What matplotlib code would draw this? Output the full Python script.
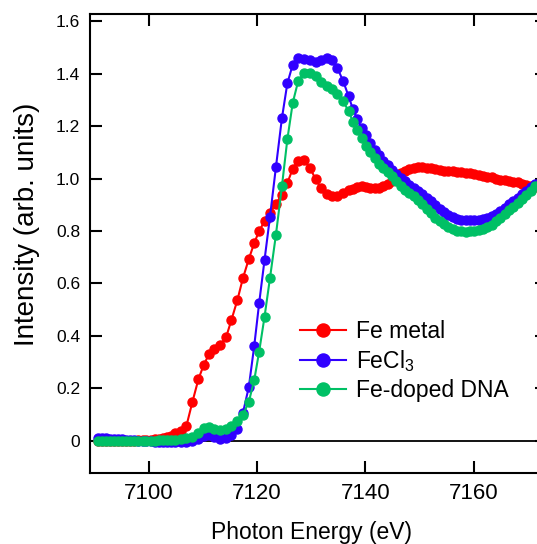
import matplotlib
matplotlib.use('Agg')
from matplotlib import pyplot as plt

plt.rcParams['font.family'] = ['Liberation Sans', 'DejaVu Sans']
plt.rcParams['mathtext.fontset'] = 'custom'
plt.rcParams['mathtext.rm'] = 'Liberation Sans'
plt.rcParams['mathtext.default'] = 'regular'

# photon energy (eV), shared by all three spectra
energy = [
    7090.6, 7091.4, 7092.1, 7092.9, 7093.6, 7094.4, 7095.1, 7095.9, 7096.6, 7097.4,
    7098.1, 7098.9, 7099.6, 7100.4, 7101.1, 7101.9, 7102.6, 7103.4, 7104.1, 7104.9,
    7106.0, 7107.0, 7108.1, 7109.2, 7110.2, 7111.2, 7112.1, 7113.2, 7114.3, 7115.3,
    7116.4, 7117.4, 7118.5, 7119.5, 7120.4, 7121.4, 7122.4, 7123.5, 7124.6, 7125.6,
    7126.6, 7127.6, 7128.7, 7129.8, 7130.8, 7131.8, 7132.9, 7133.9, 7134.8, 7135.9,
    7136.9, 7137.7, 7138.5, 7139.3, 7140.1, 7140.9, 7141.7, 7142.5, 7143.3, 7144.1,
    7144.9, 7145.7, 7146.5, 7147.3, 7148.1, 7148.9, 7149.7, 7150.5, 7151.3, 7152.1,
    7152.9, 7153.7, 7154.5, 7155.3, 7156.1, 7156.9, 7157.7, 7158.5, 7159.3, 7160.1,
    7160.9, 7161.7, 7162.5, 7163.3, 7164.1, 7164.9, 7165.7, 7166.5, 7167.3, 7168.1,
    7168.9, 7169.7, 7170.5, 7171.3]

fe_metal = [
    0.000, 0.000, -0.001, -0.001, -0.001, -0.001, 0.000, 0.000, 0.000, 0.000,
    0.001, 0.001, 0.002, 0.003, 0.005, 0.007, 0.010, 0.014, 0.019, 0.027,
    0.035, 0.057, 0.148, 0.234, 0.290, 0.331, 0.350, 0.365, 0.394, 0.461,
    0.537, 0.619, 0.693, 0.754, 0.800, 0.837, 0.870, 0.904, 0.938, 0.983,
    1.037, 1.068, 1.070, 1.040, 0.998, 0.964, 0.942, 0.932, 0.934, 0.945,
    0.955, 0.960, 0.966, 0.970, 0.968, 0.964, 0.963, 0.965, 0.972, 0.980,
    0.992, 1.008, 1.020, 1.028, 1.035, 1.040, 1.043, 1.044, 1.042, 1.039,
    1.036, 1.033, 1.030, 1.028, 1.027, 1.025, 1.024, 1.022, 1.020, 1.017,
    1.013, 1.010, 1.007, 1.004, 1.000, 0.996, 0.994, 0.991, 0.988, 0.985,
    0.981, 0.977, 0.972, 0.968]

fecl3 = [
    0.010, 0.009, 0.008, 0.007, 0.006, 0.005, 0.004, 0.003, 0.002, 0.001,
    0.000, -0.001, -0.002, -0.003, -0.004, -0.004, -0.005, -0.005, -0.005, -0.005,
    -0.005, -0.005, -0.003, 0.005, 0.018, 0.020, 0.012, 0.007, 0.010, 0.022,
    0.045, 0.104, 0.205, 0.362, 0.524, 0.690, 0.854, 1.044, 1.230, 1.363,
    1.435, 1.461, 1.457, 1.451, 1.446, 1.452, 1.461, 1.452, 1.423, 1.372,
    1.314, 1.265, 1.228, 1.192, 1.166, 1.135, 1.108, 1.088, 1.067, 1.050,
    1.034, 1.016, 1.002, 0.989, 0.977, 0.965, 0.953, 0.940, 0.927, 0.915,
    0.900, 0.885, 0.871, 0.860, 0.852, 0.846, 0.842, 0.840, 0.840, 0.841,
    0.842, 0.845, 0.851, 0.858, 0.866, 0.875, 0.888, 0.902, 0.915, 0.927,
    0.940, 0.953, 0.966, 0.980]

fe_dna = [
    0.000, 0.000, 0.000, 0.000, 0.000, 0.000, 0.000, 0.000, 0.000, 0.000,
    0.000, 0.000, 0.000, 0.000, 0.000, 0.001, 0.001, 0.002, 0.002, 0.003,
    0.004, 0.008, 0.015, 0.030, 0.049, 0.053, 0.045, 0.040, 0.045, 0.056,
    0.075, 0.097, 0.148, 0.231, 0.339, 0.473, 0.620, 0.786, 0.970, 1.149,
    1.289, 1.372, 1.404, 1.404, 1.391, 1.368, 1.352, 1.340, 1.321, 1.295,
    1.257, 1.217, 1.185, 1.155, 1.125, 1.101, 1.077, 1.056, 1.040, 1.025,
    1.009, 0.991, 0.972, 0.958, 0.945, 0.933, 0.919, 0.902, 0.885, 0.869,
    0.851, 0.838, 0.825, 0.814, 0.806, 0.801, 0.798, 0.797, 0.798, 0.800,
    0.803, 0.808, 0.815, 0.824, 0.836, 0.849, 0.863, 0.878, 0.892, 0.906,
    0.921, 0.937, 0.953, 0.972]

labels = ['Fe metal', 'FeCl$_3$', 'Fe-doped DNA']
colors = ['#ff0000', '#3000ff', '#00c065']

xticks = [7100, 7120, 7140, 7160]
yticks = [0, 0.2, 0.4, 0.6, 0.8, 1.0, 1.2, 1.4, 1.6]
ytick_labels = ['0', '0.2', '0.4', '0.6', '0.8', '1.0', '1.2', '1.4', '1.6']

W, H = 537, 544
fig = plt.figure(figsize=(W / 100, H / 100), dpi=100)
# axes box in pixels: left 90, right 547 (runs off the canvas), top 14, bottom 473
ax = fig.add_axes([90 / W, (H - 473) / H, (547 - 90) / W, (473 - 14) / H])

# zero line
ax.axhline(0, color='black', lw=1.3, zorder=1)

for y, lab, c in zip([fe_metal, fecl3, fe_dna], labels, colors):
    ax.plot(energy, y, color=c, lw=1.5, marker='o', ms=6.5, mec=c, mfc=c,
            label=lab, zorder=2)

ax.set_xlim(7089.2, 7173.5)
ax.set_ylim(-0.124, 1.628)
ax.set_xticks(xticks)
ax.set_yticks(yticks)
ax.set_yticklabels(ytick_labels)

for s in ax.spines.values():
    s.set_linewidth(1.5)
ax.tick_params(axis='both', direction='in', length=8.5, width=1.5,
               top=True, right=True)
ax.tick_params(axis='x', labelsize=16, pad=7)
ax.tick_params(axis='y', labelsize=12.5, pad=7)

# x label sits right at the bottom edge, as in the original figure
ax.set_xlabel('Photon Energy (eV)', fontsize=16.5)
ax.xaxis.set_label_coords(0.485, -0.1055)
fig.text(27 / W, 1 - 224 / H, 'Intensity (arb. units)', fontsize=20,
         rotation=90, ha='center', va='center')

leg = ax.legend(loc='upper left', bbox_to_anchor=(300 / W, 1 - 320 / H),
                bbox_transform=fig.transFigure, frameon=False, fontsize=16.5,
                handlelength=2.0, handletextpad=0.45, labelspacing=0.22,
                borderpad=0, borderaxespad=0, markerscale=1.45)

fig.savefig('out.png', dpi=100)
